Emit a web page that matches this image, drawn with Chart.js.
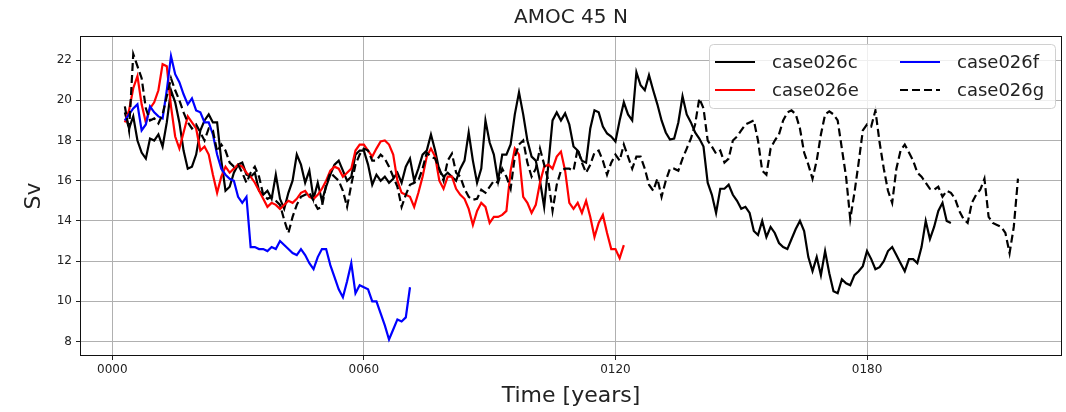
<!DOCTYPE html>
<html>
<head>
<meta charset="utf-8">
<script src="https://cdn.jsdelivr.net/npm/chart.js@4.4.1/dist/chart.umd.min.js"></script>
<style>
    html, body { margin: 0; padding: 0; background: #fff; }
    #wrap { width: 1066px; height: 412px; position: relative; }
</style>
</head>
<body>
<div id="wrap"><canvas id="amocChart"></canvas></div>
<script>
// annual means, first value is model year 3
const startYear = 3;

const case026c = [
    19.4, 18.6, 19.2, 18.0, 17.4, 17.1, 18.1, 18.0, 18.3, 17.7,
    18.9, 20.5, 19.9, 18.9, 17.5, 16.6, 16.7, 17.3, 18.5, 19.0,
    19.3, 18.9, 18.9, 17.0, 15.5, 15.7, 16.4, 16.8, 16.9, 16.3,
    16.2, 16.4, 15.5, 15.3, 15.5, 15.1, 16.3, 15.1, 14.6, 15.4,
    16.0, 17.3, 16.8, 15.9, 16.5, 15.1, 15.9, 15.0, 15.7, 16.3,
    16.8, 17.0, 16.5, 16.0, 16.2, 17.3, 17.5, 17.5, 16.8, 15.8,
    16.3, 16.0, 16.2, 15.9, 16.1, 16.4, 15.9, 16.7, 17.1, 16.0,
    16.6, 17.3, 17.5, 18.3, 17.5, 16.5, 16.2, 16.4, 16.2, 16.0,
    16.6, 17.0, 18.4, 17.0, 15.9, 16.6, 19.0, 17.9, 17.3, 16.0,
    17.3, 17.3, 17.8, 19.3, 20.4, 19.3, 18.0, 17.2, 17.0, 16.0,
    14.7, 16.8, 19.0, 19.4, 19.0, 19.35, 18.8, 17.7, 17.5, 17.0,
    16.9, 18.6, 19.5, 19.4, 18.7, 18.35, 18.2, 17.95, 19.0, 19.9,
    19.3, 19.0, 21.4, 20.75, 20.5, 21.25, 20.5, 19.8, 19.0, 18.4,
    18.05, 18.1, 18.9, 20.2, 19.3, 18.9, 18.4, 18.1, 17.7, 15.9,
    15.3, 14.4, 15.6, 15.6, 15.8, 15.3, 15.0, 14.6, 14.7, 14.4,
    13.5, 13.3, 14.0, 13.2, 13.7, 13.4, 12.9, 12.7, 12.6, 13.1,
    13.6, 14.0, 13.5, 12.2, 11.5, 12.2, 11.3, 12.5, 11.4, 10.5,
    10.4, 11.1, 10.9, 10.8, 11.3, 11.5, 11.75, 12.5, 12.1, 11.6,
    11.7, 12.0, 12.5, 12.7, 12.3, 11.9, 11.5, 12.1, 12.1, 11.9,
    12.7, 14.0, 13.1, 13.7, 14.5, 14.9, 14.0, 13.9
];

const case026e = [
    18.9, 19.5, 20.6, 21.2, 19.8, 18.9, 19.6, 19.9, 20.5, 21.8,
    21.7, 19.7, 18.2, 17.6, 18.4, 19.2, 18.9, 18.6, 17.5, 17.7,
    17.3, 16.3, 15.4, 16.2, 16.7, 16.4, 16.6, 16.8, 16.7, 16.4,
    16.2, 15.9, 15.5, 15.1, 14.7, 14.9, 14.8, 14.6, 14.8, 15.0,
    14.9, 15.1, 15.4, 15.5, 15.2, 15.1, 15.3, 15.6, 16.0, 16.5,
    16.7, 16.6, 16.2, 16.4, 16.6, 17.5, 17.8, 17.8, 17.5, 17.2,
    17.6, 17.95, 18.0, 17.8, 17.3, 16.0, 15.4, 15.3, 15.2, 14.7,
    15.4, 16.2, 17.2, 17.6, 17.2, 16.0, 15.6, 16.2, 16.2, 15.6,
    15.3, 15.1, 14.6, 13.8, 14.5, 14.9, 14.7, 13.9, 14.2, 14.2,
    14.3, 14.5, 16.5, 17.6, 17.3, 15.2, 14.9, 14.4, 14.8, 15.9,
    16.7, 16.8, 16.6, 17.2, 17.45, 16.5, 14.9, 14.6, 14.9, 14.4,
    15.0, 14.2, 13.2, 13.9, 14.3, 13.4, 12.6, 12.6, 12.15, 12.8
];

const case026f = [
    19.0, 19.3, 19.6, 19.8, 18.5, 18.8, 19.7, 19.4, 19.2, 19.1,
    20.5, 22.2, 21.3, 20.9, 20.3, 19.8, 20.1, 19.5, 19.4, 18.9,
    18.9, 18.3, 17.3, 16.6, 16.3, 16.1, 16.0, 15.2, 14.9, 15.2,
    12.7, 12.7, 12.6, 12.6, 12.5, 12.7, 12.6, 13.0, 12.8, 12.6,
    12.4, 12.3, 12.6, 12.3, 11.9, 11.6, 12.2, 12.6, 12.6, 11.8,
    11.2, 10.6, 10.2, 11.0, 11.9, 10.4, 10.8, 10.7, 10.6, 10.0,
    10.0, 9.4, 8.8, 8.1, 8.6, 9.1, 9.0, 9.2, 10.7
];

const case026g = [
    19.7, 18.5, 22.3, 21.7, 21.1, 19.6, 19.0, 19.1, 18.85, 19.3,
    20.2, 21.1, 20.5, 20.0, 19.4, 18.9, 18.6, 18.8, 18.4, 18.0,
    18.6, 18.5, 17.45, 17.8, 17.5, 16.9, 16.7, 16.8, 16.4, 15.9,
    16.4, 16.7, 16.2, 15.3, 15.1, 15.2, 15.0, 14.8, 14.05, 13.4,
    14.2, 14.8, 15.2, 15.3, 15.4, 15.0, 14.6, 14.7, 15.8, 16.4,
    16.2, 16.0, 15.5, 14.7, 15.8, 16.8, 17.3, 17.6, 17.5, 17.0,
    17.0, 17.3, 17.1, 16.7, 16.2, 15.7, 14.7, 15.3, 15.8, 15.9,
    16.0, 16.6, 17.4, 17.2, 17.1, 16.6, 16.0, 17.0, 17.35, 16.4,
    16.2, 15.6, 15.2, 15.05, 15.1, 15.55, 15.4, 15.7, 16.0, 15.9,
    16.6, 16.2, 15.6, 17.2, 17.8, 18.0, 16.9, 16.2, 16.6, 17.6,
    16.8, 16.0, 14.5, 15.8, 16.5, 16.6, 16.6, 16.5, 17.6, 16.9,
    16.4, 16.8, 17.4, 17.5, 17.0, 16.3, 16.9, 17.3, 17.0, 17.8,
    17.2, 16.6, 17.2, 17.2, 16.6, 15.8, 15.5, 16.1, 15.2, 16.0,
    16.6, 16.6, 16.5, 17.1, 17.6, 18.1, 18.8, 20.1, 19.6, 18.0,
    17.7, 17.35, 17.5, 16.9, 17.1, 18.0, 18.2, 18.5, 18.8, 18.9,
    19.0, 18.0, 16.5, 16.3, 17.6, 18.0, 18.3, 19.0, 19.4, 19.5,
    19.3, 18.6, 17.4, 16.8, 16.1, 17.0, 18.3, 19.3, 19.45, 19.3,
    19.0, 17.6, 16.2, 14.1, 15.4, 16.9, 18.5, 18.8, 18.7, 19.5,
    17.9, 16.6, 15.5, 14.9, 16.6, 17.5, 17.8, 17.4, 17.0, 16.4,
    16.2, 15.9, 15.6, 15.55, 15.7, 15.2, 15.5, 15.4, 15.1, 14.5,
    14.1, 13.9, 14.9, 15.3, 15.55, 16.1, 14.2, 13.9, 13.8, 13.7,
    13.4, 12.4, 13.7, 16.1
];

const xTicks = [0, 60, 120, 180];
const yTicks = [8, 10, 12, 14, 16, 18, 20, 22];

function toPoints(values) {
    return values.map((v, i) => ({ x: startYear + i, y: v }));
}

const tickFont = { family: 'DejaVu Sans', size: 12 };

// legend in two columns, matplotlib style
const legendBox = {
    id: 'legendBox',
    afterDraw(chart) {
        const ctx = chart.ctx;
        const sets = chart.data.datasets;
        const slots = [
            { ds: 0, x: 715, y: 62 },
            { ds: 1, x: 715, y: 90 },
            { ds: 2, x: 900, y: 62 },
            { ds: 3, x: 900, y: 90 },
        ];

        ctx.save();
        ctx.beginPath();
        ctx.roundRect(709.5, 44.5, 346, 64, 4);
        ctx.fillStyle = 'rgba(255,255,255,0.8)';
        ctx.fill();
        ctx.strokeStyle = '#d0d0d0';
        ctx.lineWidth = 1;
        ctx.stroke();

        ctx.font = '18px "DejaVu Sans"';
        ctx.textBaseline = 'middle';
        slots.forEach((s) => {
            const d = sets[s.ds];
            ctx.beginPath();
            ctx.setLineDash(d.borderDash || []);
            ctx.strokeStyle = d.borderColor;
            ctx.lineWidth = d.borderWidth;
            ctx.moveTo(s.x, s.y);
            ctx.lineTo(s.x + 40, s.y);
            ctx.stroke();
            ctx.setLineDash([]);
            ctx.fillStyle = '#222';
            ctx.fillText(d.label, s.x + 57, s.y + 1);
        });
        ctx.restore();
    },
};

// title, axis labels and the axes frame
const figureText = {
    id: 'figureText',
    afterDraw(chart) {
        const ctx = chart.ctx;
        const area = chart.chartArea;

        ctx.save();
        ctx.strokeStyle = '#111';
        ctx.lineWidth = 1;
        ctx.strokeRect(area.left + 0.5, area.top + 0.5, area.right - area.left - 1, area.bottom - area.top - 1);

        ctx.fillStyle = '#222';
        ctx.textAlign = 'center';
        ctx.textBaseline = 'middle';
        ctx.font = '20px "DejaVu Sans"';
        ctx.fillText('AMOC 45 N', (area.left + area.right) / 2, 18);

        ctx.font = '22px "DejaVu Sans"';
        ctx.fillText('Time [years]', (area.left + area.right) / 2, 396);

        ctx.translate(34, (area.top + area.bottom) / 2);
        ctx.rotate(-Math.PI / 2);
        ctx.fillText('Sv', 0, 0);
        ctx.restore();
    },
};

function makeAmocChart() {
    const canvas = document.getElementById('amocChart');

    new Chart(canvas.getContext('2d'), {
        type: 'line',
        data: {
            datasets: [
                {
                    label: 'case026c',
                    data: toPoints(case026c),
                    borderColor: '#000000',
                    borderWidth: 2.2,
                    order: 4,
                },
                {
                    label: 'case026e',
                    data: toPoints(case026e),
                    borderColor: '#ff0000',
                    borderWidth: 2.2,
                    order: 3,
                },
                {
                    label: 'case026f',
                    data: toPoints(case026f),
                    borderColor: '#0000ff',
                    borderWidth: 2.2,
                    order: 2,
                },
                {
                    label: 'case026g',
                    data: toPoints(case026g),
                    borderColor: '#000000',
                    borderWidth: 2.2,
                    borderDash: [8, 4],
                    order: 1,
                },
            ],
        },
        options: {
            responsive: true,
            maintainAspectRatio: false,
            animation: false,
            layout: {
                padding: { top: 36, right: 4, left: 0, bottom: 0 },
            },
            elements: {
                point: { radius: 0 },
                line: { tension: 0, fill: false },
            },
            plugins: {
                legend: { display: false },
                tooltip: { enabled: false },
                title: { display: false },
            },
            scales: {
                x: {
                    type: 'linear',
                    min: -7.7,
                    max: 226.5,
                    afterBuildTicks: (scale) => {
                        scale.ticks = xTicks.map((v) => ({ value: v }));
                    },
                    afterFit: (scale) => {
                        scale.height = 56;
                    },
                    grid: {
                        color: '#b0b0b0',
                        lineWidth: 1,
                        tickLength: 4,
                        tickColor: '#222',
                    },
                    border: { display: false },
                    ticks: {
                        autoSkip: false,
                        maxRotation: 0,
                        padding: 3,
                        color: '#222',
                        font: tickFont,
                        callback: (v) => String(v).padStart(4, '0'),
                    },
                },
                y: {
                    min: 7.28,
                    max: 23.2,
                    afterBuildTicks: (scale) => {
                        scale.ticks = yTicks.map((v) => ({ value: v }));
                    },
                    afterFit: (scale) => {
                        scale.width = 80;
                    },
                    grid: {
                        color: '#b0b0b0',
                        lineWidth: 1,
                        tickLength: 4,
                        tickColor: '#222',
                    },
                    border: { display: false },
                    ticks: {
                        autoSkip: false,
                        padding: 4,
                        color: '#222',
                        font: tickFont,
                    },
                },
            },
        },
        plugins: [figureText, legendBox],
    });
}

document.addEventListener('DOMContentLoaded', makeAmocChart);
</script>
</body>
</html>
